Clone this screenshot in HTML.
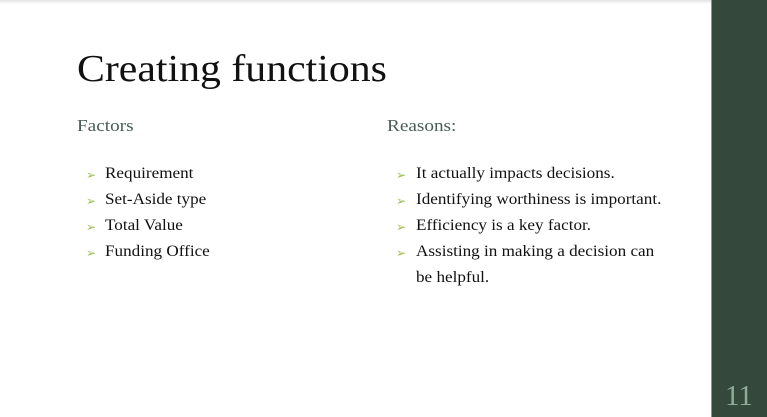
<!DOCTYPE html>
<html><head><style>
body{margin:0;width:767px;height:417px;overflow:hidden;background:#fff;position:relative;font-family:"Liberation Serif",serif;}
.top{position:absolute;left:0;top:0;width:711px;height:4px;background:linear-gradient(#e2e2e2,#fff);}
.side{position:absolute;left:711px;top:0;width:56px;height:417px;background:#34483c;border-left:1px solid #8a9a90;}
.num{position:absolute;left:725px;top:380px;font-size:29px;color:#8fae98;}
.t{position:absolute;left:77px;top:47px;font-size:38px;color:#111;white-space:nowrap;transform:scaleX(1.1);transform-origin:left;}
.h{position:absolute;top:116px;font-size:17px;color:#4a5e55;transform:scaleX(1.13);transform-origin:left;}
.li{position:absolute;font-size:16px;color:#111;white-space:nowrap;transform:scaleX(1.07);transform-origin:left;}
.ar{position:absolute;font-size:12px;color:#9cbd4b;}
</style></head><body>
<div class="top"></div>
<div class="side"></div><div class="num">11</div>
<div class="t">Creating functions</div>
<div class="h" style="left:77px">Factors</div>
<div class="h" style="left:387px">Reasons:</div>
<div class="ar" style="left:86px;top:168px">➢</div><div class="li" style="left:105px;top:165px">Requirement</div>
<div class="ar" style="left:86px;top:194px">➢</div><div class="li" style="left:105px;top:191px">Set-Aside type</div>
<div class="ar" style="left:86px;top:220px">➢</div><div class="li" style="left:105px;top:217px">Total Value</div>
<div class="ar" style="left:86px;top:246px">➢</div><div class="li" style="left:105px;top:243px">Funding Office</div>
<div class="ar" style="left:396px;top:168px">➢</div><div class="li" style="left:416px;top:165px">It actually impacts decisions.</div>
<div class="ar" style="left:396px;top:194px">➢</div><div class="li" style="left:416px;top:191px">Identifying worthiness is important.</div>
<div class="ar" style="left:396px;top:220px">➢</div><div class="li" style="left:416px;top:217px">Efficiency is a key factor.</div>
<div class="ar" style="left:396px;top:246px">➢</div><div class="li" style="left:416px;top:243px">Assisting in making a decision can</div>
<div class="li" style="left:416px;top:269px">be helpful.</div>
</body></html>
